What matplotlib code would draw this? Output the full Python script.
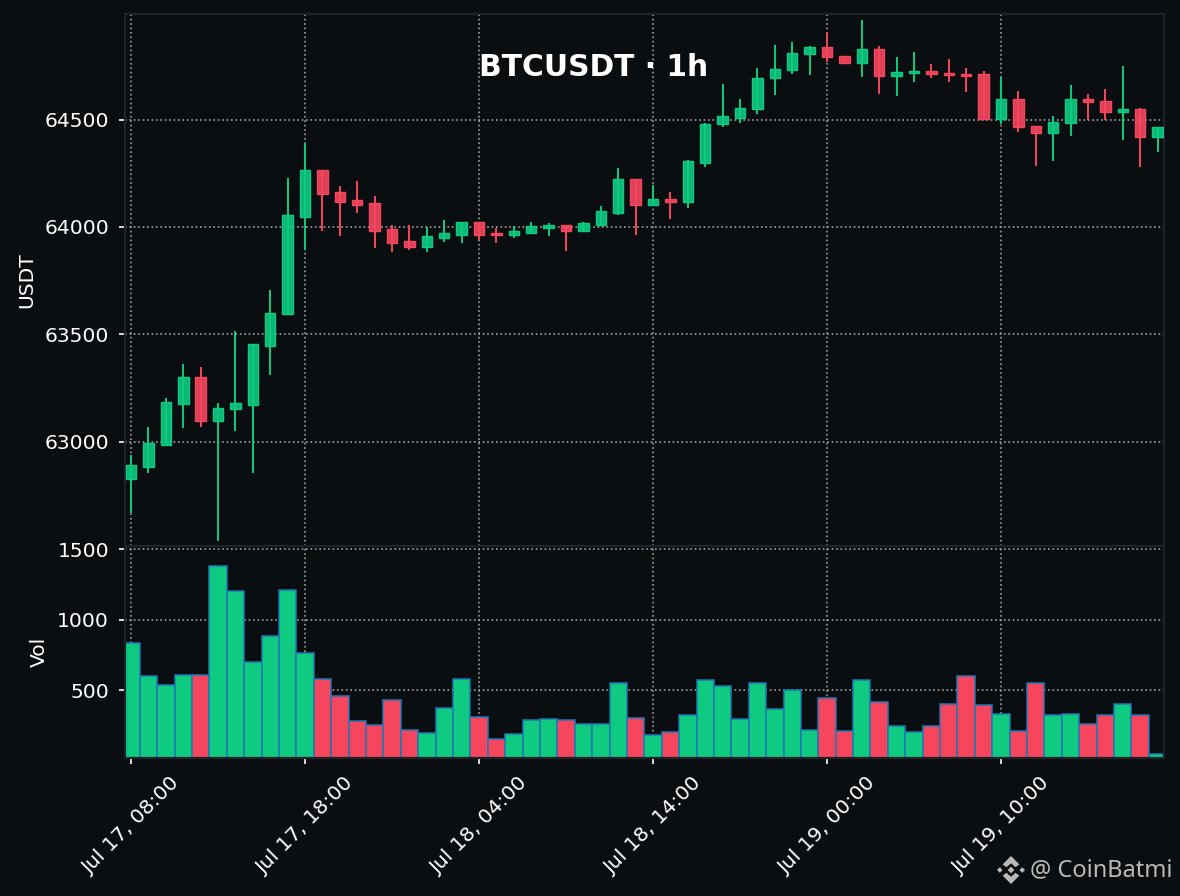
import numpy as np
import matplotlib
matplotlib.use("Agg")
import matplotlib.pyplot as plt
from matplotlib.patches import Polygon

# candles
opens = [62825, 62884, 62986, 63177, 63300, 63098, 63151, 63173, 63447, 63593,
         64048, 64264, 64161, 64126, 64110, 63989, 63933, 63908, 63950, 63964,
         64022, 63974, 63964, 63974, 63997, 64008, 63983, 64011, 64067, 64222,
         64104, 64129, 64118, 64300, 64480, 64508, 64550, 64693, 64730, 64804,
         64838, 64797, 64762, 64829, 64702, 64716, 64727, 64717, 64714, 64713,
         64505, 64596, 64471, 64436, 64483, 64596, 64587, 64534, 64550, 64418]
highs = [62938, 63068, 63204, 63362, 63346, 63179, 63514, 63454, 63707, 64228,
         64391, 64264, 64191, 64214, 64144, 64009, 64009, 64000, 64033, 64022,
         64022, 63995, 64005, 64023, 64019, 64008, 64023, 64098, 64275, 64222,
         64196, 64163, 64312, 64483, 64666, 64596, 64740, 64848, 64862, 64845,
         64908, 64797, 64966, 64845, 64793, 64817, 64759, 64783, 64742, 64728,
         64700, 64635, 64471, 64519, 64663, 64621, 64644, 64752, 64556, 64466]
lows = [62666, 62856, 62986, 63065, 63070, 62539, 63051, 62856, 63311, 63593,
        63893, 63981, 63958, 64067, 63902, 63884, 63893, 63884, 63930, 63925,
        63939, 63925, 63949, 63974, 63958, 63890, 63983, 64011, 64056, 63963,
        64098, 64037, 64088, 64279, 64466, 64484, 64526, 64615, 64714, 64710,
        64770, 64762, 64700, 64621, 64612, 64677, 64696, 64677, 64630, 64505,
        64481, 64444, 64286, 64309, 64425, 64500, 64500, 64407, 64281, 64351]
closes = [62890, 62992, 63183, 63300, 63098, 63155, 63179, 63454, 63598, 64054,
          64264, 64155, 64118, 64104, 63983, 63927, 63908, 63957, 63971, 64022,
          63964, 63964, 63980, 64003, 64008, 63983, 64017, 64073, 64222, 64104,
          64129, 64118, 64306, 64480, 64517, 64554, 64694, 64736, 64810, 64838,
          64790, 64762, 64829, 64702, 64722, 64728, 64711, 64706, 64705, 64505,
          64596, 64464, 64436, 64489, 64596, 64581, 64534, 64550, 64418, 64466]
volumes = [831, 597, 533, 609, 609, 1378, 1201, 696, 881, 1208,
           760, 576, 455, 278, 249, 427, 214, 192, 370, 576,
           306, 150, 185, 285, 292, 285, 256, 256, 547, 299,
           178, 199, 320, 569, 526, 292, 547, 363, 498, 214,
           441, 206, 569, 412, 242, 199, 242, 398, 597, 391,
           327, 206, 547, 320, 327, 256, 320, 398, 320, 43]

tick_pos = [0, 10, 20, 30, 40, 50]
tick_labels = ["Jul 17, 08:00", "Jul 17, 18:00", "Jul 18, 04:00",
               "Jul 18, 14:00", "Jul 19, 00:00", "Jul 19, 10:00"]

BG = "#0b0e11"
GREEN = "#0ecb81"
RED = "#f6465d"
SPINE = "#1e2329"
W, H = 1180, 896


def box(x0, y0, x1, y1):
    # pixel box (top-left origin) to figure fractions
    return [x0 / W, 1 - y1 / H, (x1 - x0) / W, (y1 - y0) / H]


def style(ax):
    ax.set_facecolor(BG)
    for s in ax.spines.values():
        s.set_color(SPINE)
        s.set_linewidth(0.8)
    ax.tick_params(colors="white", labelsize=7.3, length=2.2, width=0.6)
    ax.grid(True, linestyle=":", color="#a0a0a0", linewidth=0.6)
    ax.set_axisbelow(True)


x = np.arange(len(closes))
o = np.array(opens)
c = np.array(closes)
cols = [GREEN if a >= b else RED for a, b in zip(c, o)]

fig = plt.figure(figsize=(W / 200, H / 200), dpi=200, facecolor=BG)
ax = fig.add_axes(box(125, 14, 1164, 546))
axv = fig.add_axes(box(125, 546, 1164, 758), sharex=ax)
style(ax)
style(axv)

ax.vlines(x, lows, highs, colors=cols, linewidth=0.7, zorder=2)
ax.bar(x, np.abs(c - o), bottom=np.minimum(o, c), width=0.6, color=cols,
       alpha=0.9, edgecolor="none", zorder=3)
ax.bar(x, np.abs(c - o), bottom=np.minimum(o, c), width=0.6, facecolor="none",
       edgecolor=cols, linewidth=0.5, zorder=4)
ax.set_ylim(62514, 64992)
ax.set_yticks([63000, 63500, 64000, 64500])
ax.set_ylabel("USDT", color="white", fontsize=7.3, labelpad=3)
ax.tick_params(axis="x", length=0, labelbottom=False)

axv.bar(x, volumes, width=1.0, color=cols, edgecolor="#1f77b4", linewidth=0.55)
axv.set_ylim(17, 1523)
axv.set_yticks([500, 1000, 1500])
axv.set_ylabel("Vol", color="white", fontsize=7.3, labelpad=3)
axv.set_xlim(-0.35, 59.37)
axv.set_xticks(tick_pos)
axv.set_xticklabels(tick_labels, rotation=45, ha="center")

fig.text(594 / W, 1 - 67.5 / H, "BTCUSDT · 1h", color="white", fontsize=10.7,
         fontweight="bold", ha="center", va="center")

# watermark: binance logo + handle
logo = fig.add_axes(box(997, 856, 1025, 884))
logo.set_xlim(-1, 1)
logo.set_ylim(-1, 1)
logo.axis("off")
grey = "#b9b9b9"
for cx, cy, r in [(0, 0, 0.24), (-0.8, 0, 0.2), (0.8, 0, 0.2)]:
    logo.add_patch(Polygon([(cx - r, cy), (cx, cy + r), (cx + r, cy), (cx, cy - r)], color=grey, lw=0))
for sgn in (1, -1):
    logo.add_patch(Polygon([(0, sgn * 1.0), (0.6, sgn * 0.4), (0.32, sgn * 0.2), (0, sgn * 0.48),
                            (-0.32, sgn * 0.2), (-0.6, sgn * 0.4)], color=grey, lw=0))
fig.text(1030 / W, 1 - 870 / H, "@ CoinBatmi", color=grey, fontsize=8.5,
         family="Noto Sans", ha="left", va="center")

fig.savefig("out.png", dpi=200, facecolor=BG)
